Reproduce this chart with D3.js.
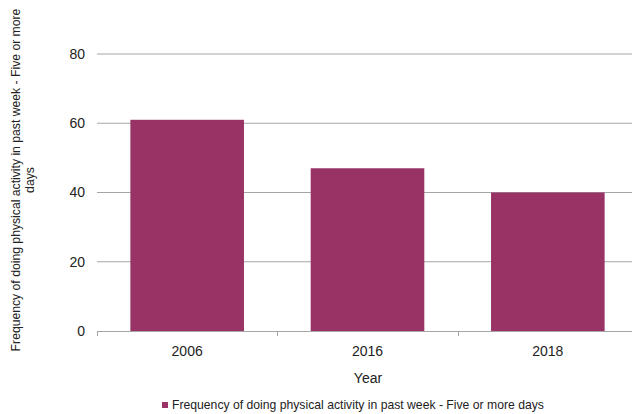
<!DOCTYPE html>
<html><head><meta charset="utf-8">
<script src="https://cdn.jsdelivr.net/npm/d3@7"></script>
<style>body{margin:0;background:#fff}svg{display:block;font-family:"Liberation Sans",Arial,sans-serif}</style>
</head><body>
<script>
const categories = ["2006", "2016", "2018"];
const values = [61, 47, 40];
const yTicks = [0, 20, 40, 60, 80];
const seriesName = "Frequency of doing physical activity in past week - Five or more days";
const yTitleLines = ["Frequency of doing physical activity in past week - Five or more", "days"];
const xTitle = "Year";

const W = 632, H = 414;
const m = {left: 97, top: 54, right: W - 638, bottom: H - 331};
const svg = d3.select("body").append("svg").attr("width", W).attr("height", H);
const x = d3.scaleBand().domain(categories).range([m.left, 638]).paddingInner(0.37).paddingOuter(0.185);
const y = d3.scaleLinear().domain([0, 80]).range([331, 54]);
const color = "#993366";

// gridlines
svg.append("g").selectAll("line").data(yTicks.filter(d => d > 0)).join("line")
  .attr("x1", m.left).attr("x2", 638).attr("y1", d => y(d)).attr("y2", d => y(d))
  .attr("stroke", "#a6a6a6").attr("stroke-width", 1);

// y labels
svg.append("g").selectAll("text").data(yTicks).join("text")
  .attr("x", 85).attr("y", d => y(d)).attr("dy", "0.35em").attr("text-anchor", "end")
  .attr("font-size", 14).attr("fill", "#222").text(d => d);

// bars
svg.append("g").selectAll("rect").data(values).join("rect")
  .attr("x", (d, i) => x(categories[i])).attr("width", x.bandwidth())
  .attr("y", d => y(d)).attr("height", d => y(0) - y(d)).attr("fill", color);

// x axis
const xa = svg.append("g");
xa.append("line").attr("x1", m.left).attr("x2", 638).attr("y1", y(0) + 0.5).attr("y2", y(0) + 0.5)
  .attr("stroke", "#a6a6a6");
const step = x.step();
const bounds = d3.range(categories.length + 1).map(i => m.left + i * step);
xa.selectAll("line.t").data(bounds).join("line").attr("class", "t")
  .attr("x1", d => Math.round(d) + 0.5).attr("x2", d => Math.round(d) + 0.5)
  .attr("y1", y(0)).attr("y2", y(0) + 5).attr("stroke", "#a6a6a6");
xa.selectAll("text").data(categories).join("text")
  .attr("x", d => x(d) + x.bandwidth() / 2).attr("y", 356).attr("text-anchor", "middle")
  .attr("font-size", 14).attr("fill", "#222").text(d => d);

// x title
svg.append("text").attr("x", 368).attr("y", 383).attr("text-anchor", "middle")
  .attr("font-size", 14).attr("fill", "#222").text(xTitle);

// y title
const yt = svg.append("text").attr("transform", "translate(20,180) rotate(-90)")
  .attr("text-anchor", "middle").attr("font-size", 12.2).attr("fill", "#222");
yTitleLines.forEach((t, i) => yt.append("tspan").attr("x", 0).attr("dy", i === 0 ? 0 : 14).text(t));

// legend
svg.append("rect").attr("x", 162).attr("y", 402).attr("width", 6).attr("height", 6).attr("fill", color);
svg.append("text").attr("x", 172).attr("y", 409).attr("font-size", 12.2).attr("fill", "#222").text(seriesName);
</script>
</body></html>
